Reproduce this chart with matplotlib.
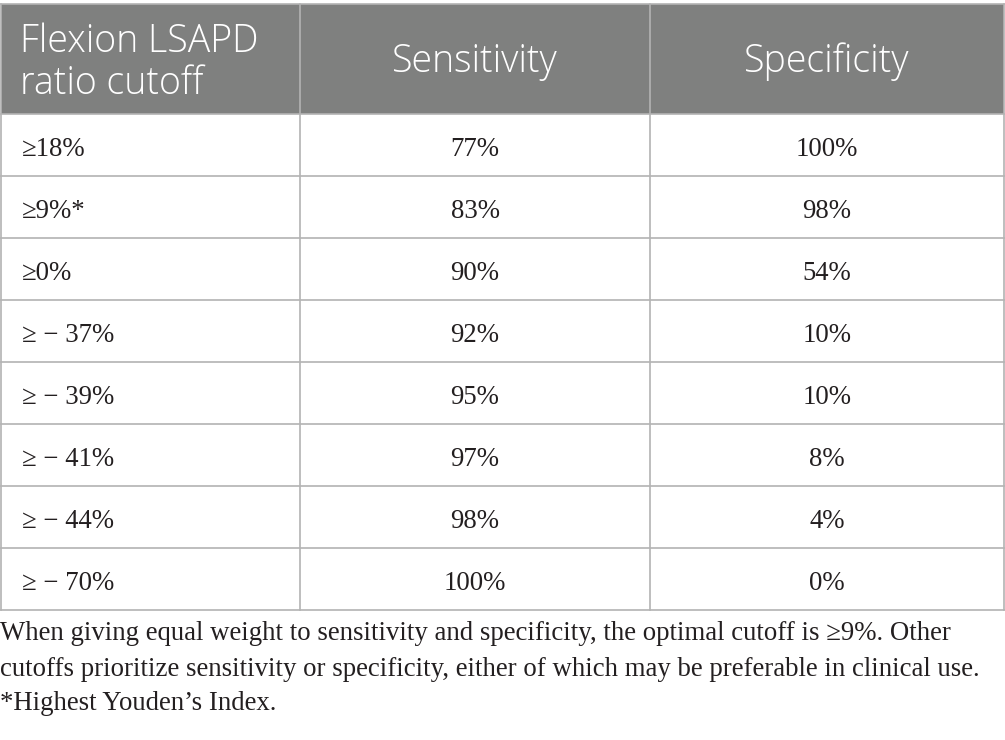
import matplotlib
matplotlib.use('Agg')
import matplotlib.pyplot as plt
from matplotlib.patches import Rectangle

# table content
headers = ['Flexion LSAPD\nratio cutoff', 'Sensitivity', 'Specificity']
cutoffs = ['≥18%', '≥9%*', '≥0%', '≥ − 37%', '≥ − 39%', '≥ − 41%', '≥ − 44%', '≥ − 70%']
sensitivity = ['77%', '83%', '90%', '92%', '95%', '97%', '98%', '100%']
specificity = ['100%', '98%', '54%', '10%', '10%', '8%', '4%', '0%']
notes = ['When giving equal weight to sensitivity and specificity, the optimal cutoff is ≥9%. Other',
         'cutoffs prioritize sensitivity or specificity, either of which may be preferable in clinical use.',
         '*Highest Youden’s Index.']

W, H = 1005, 740
fig = plt.figure(figsize=(W / 100, H / 100), dpi=100)
ax = fig.add_axes([0, 0, 1, 1])
ax.set_xlim(0, W)
ax.set_ylim(H, 0)
ax.axis('off')

col_x = [0.5, 300, 650, 1004]
top, head_bot, row_h = 4, 114, 62
grid = '#b3b3b3'
head_col = '#7f807f'

ax.add_patch(Rectangle((col_x[0], top), col_x[-1] - col_x[0], head_bot - top,
                       facecolor=head_col, edgecolor='none'))

n = len(cutoffs)
bottom = head_bot + n * row_h
# horizontal lines
ax.plot([col_x[0], col_x[-1]], [top, top], color=grid, lw=1.2)
for i in range(n + 1):
    y = head_bot + i * row_h
    ax.plot([col_x[0], col_x[-1]], [y, y], color=grid, lw=1.2)
# vertical lines
for x in col_x:
    ax.plot([x, x], [top, bottom], color=grid, lw=1.2)

hfont = dict(family='Open Sans', fontsize=27, color='white', weight='light')
ax.text(20, (top + head_bot) / 2 + 4, headers[0], ha='left', va='center',
        linespacing=1.12, **hfont)
for j in (1, 2):
    ax.text((col_x[j] + col_x[j + 1]) / 2, (top + head_bot) / 2 + 3, headers[j],
            ha='center', va='center', **hfont)

bfont = dict(family='Liberation Serif', fontsize=19.3, color='#231f20')
for i in range(n):
    yc = head_bot + i * row_h + row_h / 2 + 4
    ax.text(22, yc, cutoffs[i], ha='left', va='center', **bfont)
    ax.text((col_x[1] + col_x[2]) / 2, yc, sensitivity[i], ha='center', va='center', **bfont)
    ax.text((col_x[2] + col_x[3]) / 2, yc, specificity[i], ha='center', va='center', **bfont)

for k, line in enumerate(notes):
    ax.text(0, 634 + k * 35, line, ha='left', va='center', **bfont)

fig.savefig('out.png', dpi=100, facecolor='white')
